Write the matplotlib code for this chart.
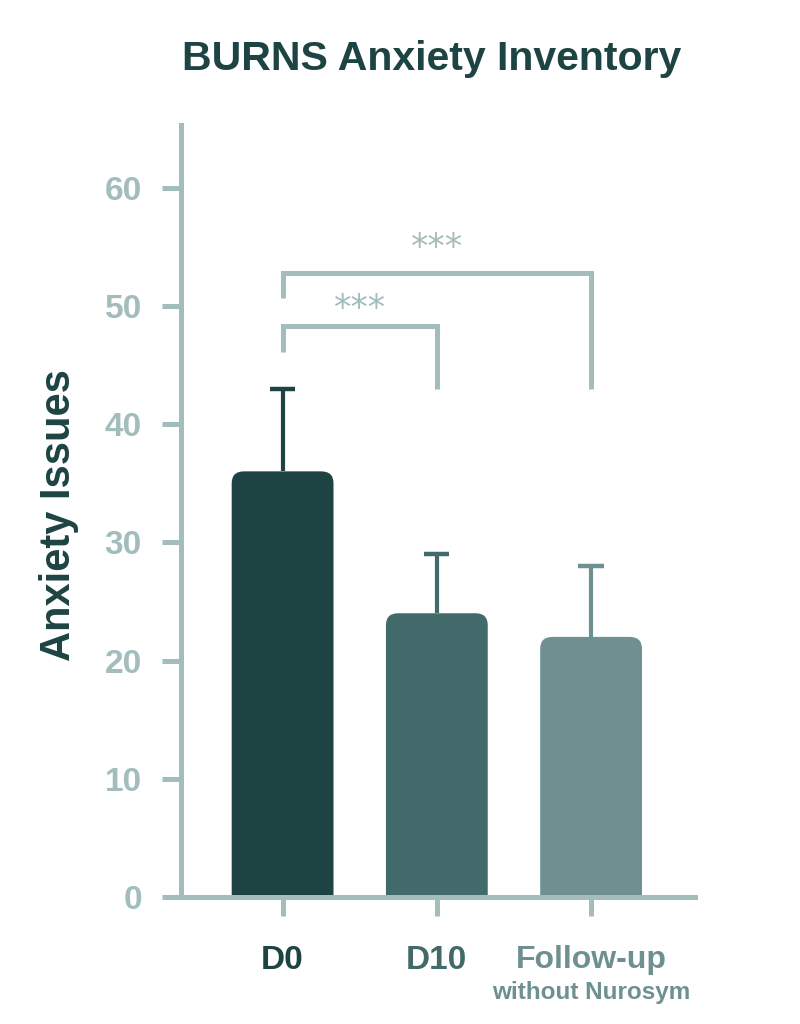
import numpy as np
import matplotlib.pyplot as plt
from matplotlib.patches import FancyBboxPatch

plt.rcParams['font.family'] = ['Liberation Sans', 'DejaVu Sans']

groups = ['D0', 'D10', 'Follow-up']
means = [36, 24, 22]
errs = [7, 5, 6]
bar_colors = ['#1d4443', '#436a6a', '#6e9090']
yticks = [0, 10, 20, 30, 40, 50, 60]

# significance brackets: (left, right, top, left leg end, right leg end, star y, label)
brackets = [(0, 1, 48.3, 46.1, 43.0, 49.7, '***'),
            (0, 2, 52.8, 50.7, 43.0, 54.9, '***')]

grey = '#a3bcbc'
dark = '#1d4443'

fig = plt.figure(figsize=(8, 10.24), dpi=100)
ax = fig.add_axes([0.226, 0.124, 0.643, 0.754])

x = np.arange(len(groups))
w = 0.66
for i in range(len(groups)):
    p = FancyBboxPatch((x[i] - w / 2, -3), w, means[i] + 3,
                       boxstyle='round,pad=0,rounding_size=0.08',
                       mutation_aspect=12.5, fc=bar_colors[i], ec='none', zorder=2)
    ax.add_patch(p)
    # upper error only
    ax.vlines(x[i], means[i], means[i] + errs[i], color=bar_colors[i], lw=3, zorder=1)
    ax.hlines(means[i] + errs[i], x[i] - 0.082, x[i] + 0.082, color=bar_colors[i], lw=3.2, zorder=1)

for l, r, top, lend, rend, sy, lab in brackets:
    ax.plot([x[l], x[l], x[r], x[r]], [lend, top, top, rend], color=grey, lw=3.6,
            solid_joinstyle='miter', solid_capstyle='butt')
    ax.text((x[l] + x[r]) / 2, sy, lab, ha='center', va='center',
            color=grey, fontsize=25, family='DejaVu Sans')

ax.set_xlim(-0.66, 2.675)
ax.set_ylim(0, 65.3)
ax.set_yticks(yticks)
ax.set_xticks(x)
ax.set_xticklabels([])
for s in ['top', 'right']:
    ax.spines[s].set_visible(False)
for s in ['left', 'bottom']:
    ax.spines[s].set_color(grey)
    ax.spines[s].set_linewidth(3.6)
ax.tick_params(axis='both', color=grey, width=3.6, length=14)
ax.tick_params(axis='y', labelcolor=grey, labelsize=24, pad=14)
for t in ax.get_yticklabels():
    t.set_fontweight('bold')

ax.text(x[0], -5.4, 'D0', ha='center', va='center', fontsize=24,
        fontweight='bold', color=dark, clip_on=False)
ax.text(x[1], -5.4, 'D10', ha='center', va='center', fontsize=24,
        fontweight='bold', color='#436a6a', clip_on=False)
ax.text(x[2], -5.3, 'Follow-up', ha='center', va='center', fontsize=23,
        fontweight='bold', color='#6e9090', clip_on=False)
ax.text(x[2], -8.1, 'without Nurosym', ha='center', va='center', fontsize=17.5,
        fontweight='bold', color='#6e9090', clip_on=False)

ax.set_ylabel('Anxiety Issues', fontsize=30, fontweight='bold', color=dark)
ax.yaxis.set_label_coords(-0.197, 0.495)
fig.text(0.54, 0.942, 'BURNS Anxiety Inventory', ha='center', va='center',
         fontsize=29.5, fontweight='bold', color=dark)

fig.savefig('out.png', dpi=100, facecolor='white')
